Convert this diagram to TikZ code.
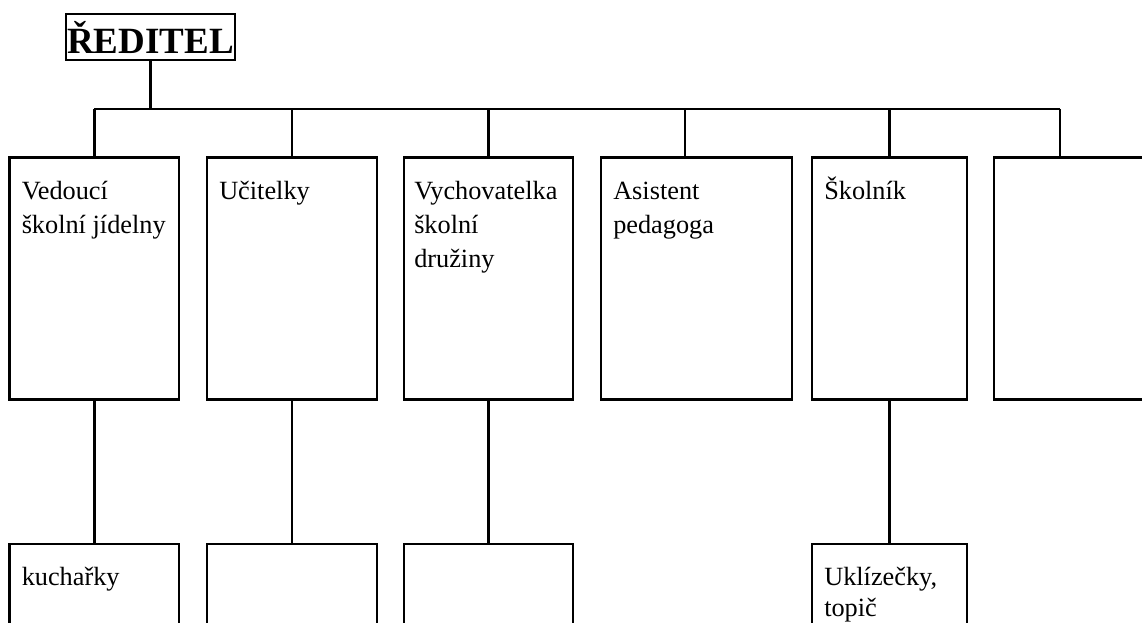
\documentclass[tikz,border=0pt]{standalone}
\usepackage{fontspec}
\setmainfont{Liberation Serif}
\usetikzlibrary{positioning}
\newcommand{\boxtext}[1]{\parbox[t]{160pt}{\raggedright #1}}

\begin{document}
\begin{tikzpicture}[x=1pt,y=-1pt,line width=2.5pt]
\tikzstyle{unit}=[draw,rectangle,anchor=north west,inner sep=0pt,outer sep=0pt]
\tikzstyle{txt}=[anchor=base west,inner sep=0pt,font=\fontsize{26.3}{34}\selectfont]
\tikzstyle{boss}=[draw,rectangle,inner sep=0pt,outer sep=0pt,minimum width=169pt,minimum height=46pt,font=\bfseries\fontsize{37}{40}\selectfont]
\useasboundingbox (0,0) rectangle (1142,623);
\node[boss] (red) at (150.5,37) {ŘEDITEL};
% first row
\node[unit,minimum width=169.5pt,minimum height=242pt] (ved) at (9.5,157.5) {};
\node[unit,minimum width=170pt,minimum height=242pt] (uci) at (207,157.5) {};
\node[unit,minimum width=169pt,minimum height=242pt] (vyc) at (404,157.5) {};
\node[unit,minimum width=191pt,minimum height=242pt] (asi) at (601,157.5) {};
\node[unit,minimum width=155pt,minimum height=242pt] (kol) at (812,157.5) {};
\node[unit,minimum width=190pt,minimum height=242pt] (nic) at (994,157.5) {};
% second row
\node[unit,minimum width=169.5pt,minimum height=200pt] (kuch) at (9.5,544) {};
\node[unit,minimum width=170pt,minimum height=200pt] (uci2) at (207,544) {};
\node[unit,minimum width=169pt,minimum height=200pt] (vyc2) at (404,544) {};
\node[unit,minimum width=155pt,minimum height=200pt] (ukl) at (812,544) {};
% texts
\node[txt] (vedT) at ([shift={(11,42)}]ved.north west) {\boxtext{Vedoucí\\školní jídelny}};
\node[txt] (uciT) at ([shift={(11,42)}]uci.north west) {\boxtext{Učitelky}};
\node[txt] (vycT) at ([shift={(9,42)}]vyc.north west) {\boxtext{Vychovatelka\\školní\\družiny}};
\node[txt] (asiT) at ([shift={(11,42)}]asi.north west) {\boxtext{Asistent\\pedagoga}};
\node[txt] (kolT) at ([shift={(11,42)}]kol.north west) {\boxtext{Školník}};
\node[txt] (kuchT) at ([shift={(11,41)}]kuch.north west) {\boxtext{kuchařky}};
\node[txt,font=\fontsize{26.3}{31}\selectfont] (uklT) at ([shift={(11,41)}]ukl.north west) {\boxtext{Uklízečky,\\topič}};
% connectors
\coordinate (bus) at (0,109);
\coordinate (c4) at (685,109);
\coordinate (c6) at (1060,109);
\draw (red.south) -- (red.south |- bus);
\draw (ved.north |- bus) -- (c6);
\foreach \n in {ved,uci,vyc,kol}
  \draw (\n.north |- bus) -- (\n.north);
\draw (c4) -- (c4 |- asi.north);
\draw (c6) -- (c6 |- nic.north);
\path[draw] (ved) edge (kuch)
  (uci) edge (uci2)
  (vyc) edge (vyc2)
  (kol) edge (ukl);
\end{tikzpicture}
\end{document}
